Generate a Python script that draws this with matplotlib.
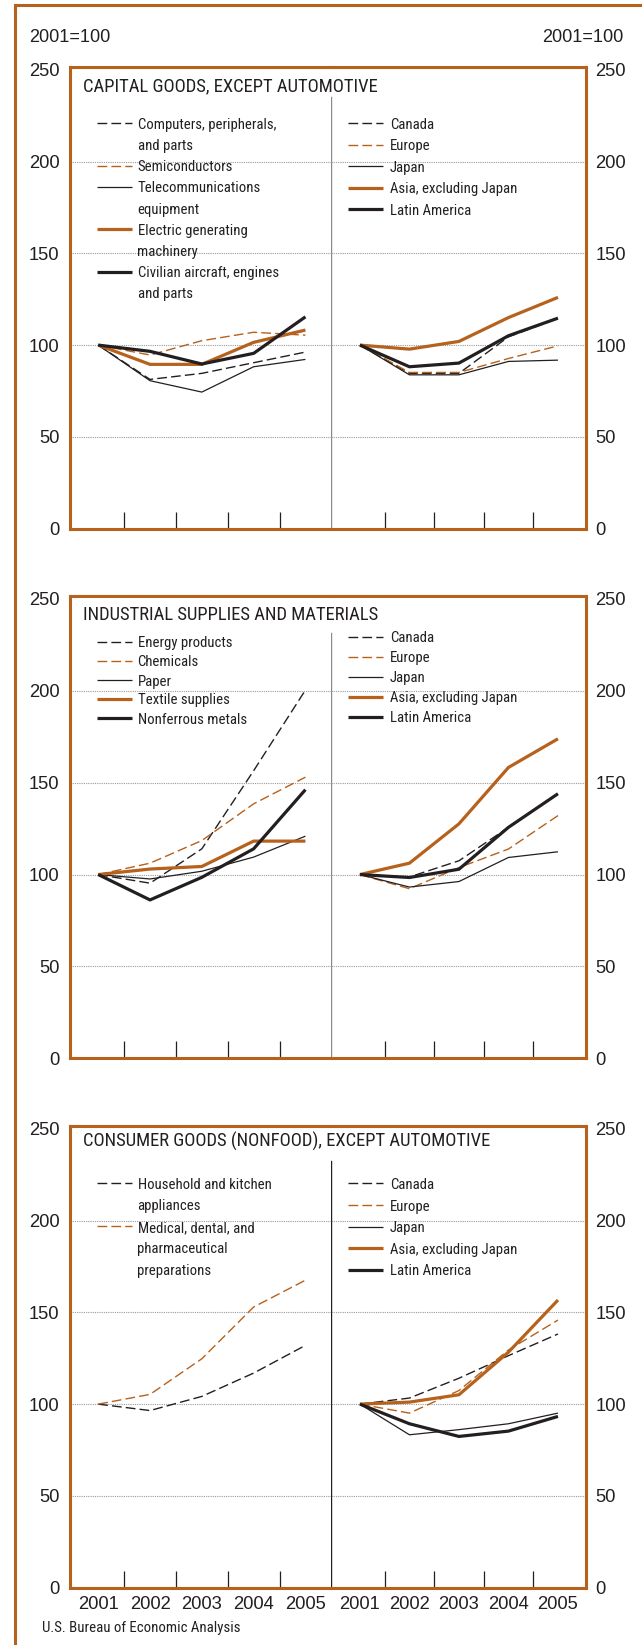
import matplotlib
matplotlib.use("Agg")
from matplotlib import pyplot as plt
from matplotlib import font_manager
from matplotlib.font_manager import FontProperties
from matplotlib.lines import Line2D

# index values, 2001=100
years = ["2001", "2002", "2003", "2004", "2005"]

# capital goods, except automotive
cap_labels = ["Computers, peripherals,\nand parts", "Semiconductors",
              "Telecommunications\nequipment", "Electric generating\nmachinery",
              "Civilian aircraft, engines\nand parts"]
cap_computers = [100, 81.3, 84.6, 90.4, 96.2]
cap_semis = [100, 94.6, 102.4, 107.0, 105.4]
cap_telecom = [100, 80.6, 74.4, 88.2, 92.2]
cap_electric = [100, 89.5, 89.5, 101.5, 108.2]
cap_aircraft = [100, 96.6, 89.7, 95.5, 115.4]
cap_canada = [100, 84.6, 84.6, 104.5, 114.5]
cap_europe = [100, 85.1, 85.1, 92.7, 99.6]
cap_japan = [100, 83.8, 83.8, 91.1, 91.8]
cap_asia = [100, 97.8, 102.0, 115.0, 126.0]
cap_latam = [100, 88.2, 90.2, 105.1, 114.7]

# industrial supplies and materials
ind_labels = ["Energy products", "Chemicals", "Paper", "Textile supplies", "Nonferrous metals"]
ind_energy = [100, 95.3, 114.0, 156.5, 200.4]
ind_chem = [100, 106.2, 118.5, 138.5, 153.0]
ind_paper = [100, 97.6, 101.8, 109.5, 120.9]
ind_textile = [100, 103.0, 104.4, 118.2, 118.2]
ind_nonferrous = [100, 86.2, 98.5, 114.0, 146.2]
ind_canada = [100, 98.7, 107.5, 125.7, 144.0]
ind_europe = [100, 92.3, 103.8, 113.9, 132.1]
ind_japan = [100, 93.2, 96.2, 109.3, 112.4]
ind_asia = [100, 106.2, 127.6, 158.3, 173.9]
ind_latam = [100, 98.4, 102.9, 125.7, 144.0]

# consumer goods (nonfood), except automotive
con_labels = ["Household and kitchen\nappliances", "Medical, dental, and\npharmaceutical\npreparations"]
con_household = [100, 96.5, 104.2, 116.9, 132.0]
con_medical = [100, 105.3, 124.7, 152.9, 167.5]
con_canada = [100, 103.3, 114.1, 126.4, 138.2]
con_europe = [100, 95.1, 107.4, 129.5, 145.8]
con_japan = [100, 83.3, 86.1, 89.3, 95.1]
con_asia = [100, 101.1, 105.1, 128.3, 156.7]
con_latam = [100, 89.3, 82.4, 85.3, 93.3]

region_labels = ["Canada", "Europe", "Japan", "Asia, excluding Japan", "Latin America"]

ORANGE = "#B6611C"
DARK = "#231F20"
GRID = "#9A9A9A"
REG = "Liberation Sans"


# look for a condensed sans face, the original uses a narrow Helvetica
def find_narrow():
    ttf = font_manager.fontManager.ttflist
    for want in ["Liberation Sans Narrow", "Roboto Condensed", "Open Sans Condensed",
                 "Noto Sans Condensed", "DejaVu Sans Condensed"]:
        for f in ttf:
            if f.name == want and f.weight in (400, "normal", "regular") and f.style == "normal":
                return FontProperties(fname=f.fname)
    for fam in ["Noto Sans", "Open Sans", "Roboto", "Liberation Sans"]:
        for f in ttf:
            if (f.name == fam and f.style == "normal" and f.weight in (400, "normal", "regular")
                    and f.stretch in ("condensed", "semi-condensed", 87.5 * 0 + 500 * 0 + 300, 400)
                    and "ondensed" in f.fname):
                return FontProperties(fname=f.fname)
    return FontProperties(family=REG)


NARROW = find_narrow()

W, H = 642, 1645
fig = plt.figure(figsize=(W / 100, H / 100), dpi=100)
renderer = fig.canvas.get_renderer()


def fit_size(text, target_px, base=12.0):
    t = fig.text(0, 0, text, fontproperties=NARROW, size=base)
    w = t.get_window_extent(renderer=renderer).width
    t.remove()
    return base * target_px / w


TITLE_SIZE = fit_size("CAPITAL GOODS, EXCEPT AUTOMOTIVE", 295)
LEG_SIZE = fit_size("Computers, peripherals,", 138)
SRC_SIZE = fit_size("U.S. Bureau of Economic Analysis", 197)


def fx(x):
    return x / W


def fy(y):
    return 1 - y / H


styles = [
    dict(color=DARK, lw=1.0, dashes=(7, 3)),
    dict(color=ORANGE, lw=1.0, dashes=(7, 3)),
    dict(color=DARK, lw=0.9),
    dict(color=ORANGE, lw=2.3),
    dict(color=DARK, lw=2.3),
]

X_LEFT, X_DIV, X_RIGHT = 70.4, 330.7, 585.5
YMAX = 251.5

# (top px, bottom px, title, title y, left series, left labels, legend starts/steps, right series, divider colour, divider top)
panels = [
    (67.1, 528.6, "CAPITAL GOODS, EXCEPT AUTOMOTIVE", 86.7,
     [cap_computers, cap_semis, cap_telecom, cap_electric, cap_aircraft], cap_labels,
     (123.3, 21.2), (123.3, 21.5),
     [cap_canada, cap_europe, cap_japan, cap_asia, cap_latam], "#8A8A8A", 235),
    (596.2, 1058.3, "INDUSTRIAL SUPPLIES AND MATERIALS", 615.1,
     [ind_energy, ind_chem, ind_paper, ind_textile, ind_nonferrous], ind_labels,
     (642.0, 19.0), (636.5, 20.0),
     [ind_canada, ind_europe, ind_japan, ind_asia, ind_latam], "#8A8A8A", 231.6),
    (1126.0, 1587.7, "CONSUMER GOODS (NONFOOD), EXCEPT AUTOMOTIVE", 1141.7,
     [con_household, con_medical], con_labels,
     (1183.4, 21.5), (1183.4, 21.6),
     [con_canada, con_europe, con_japan, con_asia, con_latam], DARK, 232.7),
]

xs = list(range(len(years)))

for i, (top, bot, title, ty, lseries, llabels, lleg, rleg, rseries, divc, divtop) in enumerate(panels):
    h = (bot - top) / H
    axL = fig.add_axes([fx(X_LEFT), fy(bot), (X_DIV - X_LEFT) / W, h])
    axR = fig.add_axes([fx(X_DIV), fy(bot), (X_RIGHT - X_DIV) / W, h])
    axL.set_xlim(-0.537, 4.488)
    axR.set_xlim(-0.59, 4.556)

    for ax, series in ((axL, lseries), (axR, rseries)):
        ax.set_ylim(0, YMAX)
        for g in [50, 100, 150, 200]:
            ax.axhline(g, color=GRID, lw=0.8, linestyle=(0, (1, 1)), zorder=1)
        for j, s in enumerate(series):
            st = styles[j]
            ln, = ax.plot(xs, s, color=st["color"], lw=st["lw"], zorder=3 + j,
                          solid_joinstyle="miter", solid_capstyle="butt")
            if "dashes" in st:
                ln.set_dashes(st["dashes"])
        for sp in ax.spines.values():
            sp.set_color(ORANGE)
            sp.set_linewidth(2.2)
        ax.set_xticks(xs)
        ax.set_xticks([0.5, 1.5, 2.5, 3.5], minor=True)
        ax.tick_params(axis="x", which="major", length=0, pad=6,
                       labelsize=13.2, labelcolor=DARK)
        ax.tick_params(axis="x", which="minor", direction="in", length=12,
                       width=0.9, color=DARK)
        ax.set_yticks([0, 50, 100, 150, 200, 250])
        if i == 2:
            ax.set_xticklabels(years, family=REG)
        else:
            ax.set_xticklabels([])

    axL.spines["right"].set_visible(False)
    axR.spines["left"].set_visible(False)
    axL.tick_params(axis="y", length=0, pad=8, labelsize=13.2, labelcolor=DARK)
    axR.yaxis.tick_right()
    axR.tick_params(axis="y", length=0, pad=7, labelsize=13.2, labelcolor=DARK)
    for lab in axL.get_yticklabels() + axR.get_yticklabels():
        lab.set_family(REG)
    axR.axvline(axR.get_xlim()[0], ymax=divtop / YMAX, color=divc, lw=1.0, zorder=2)

    fig.text(fx(83), fy(ty), title, fontproperties=NARROW, size=TITLE_SIZE,
             color=DARK, ha="left", va="center")

    # legends
    for (y0, step), labels, hx0, hx1, tx in ((lleg, llabels, 96.5, 131.5, 137.5),
                                            (rleg, region_labels, 348.0, 382.5, 390.0)):
        y = y0
        for j, lab in enumerate(labels):
            st = styles[j]
            hl = Line2D([fx(hx0), fx(hx1)], [fy(y), fy(y)], transform=fig.transFigure,
                        color=st["color"], lw=st["lw"], solid_capstyle="butt")
            if "dashes" in st:
                hl.set_dashes(st["dashes"])
            fig.add_artist(hl)
            for line in lab.split("\n"):
                fig.text(fx(tx), fy(y), line, fontproperties=NARROW, size=LEG_SIZE,
                         color=DARK, ha="left", va="center_baseline", zorder=5)
                y += step

# unit labels
fig.text(fx(29.5), fy(37.5), "2001=100", family=REG, size=13.1, color=DARK,
         ha="left", va="center")
fig.text(fx(623), fy(37.5), "2001=100", family=REG, size=13.1, color=DARK,
         ha="right", va="center")

fig.text(fx(42), fy(1628), "U.S. Bureau of Economic Analysis", fontproperties=NARROW,
         size=SRC_SIZE, color=DARK, ha="left", va="center")

# outer frame, open on the right and bottom
fig.add_artist(Line2D([fx(15), 1], [fy(5.4), fy(5.4)], transform=fig.transFigure,
                      color=ORANGE, lw=2.2, solid_capstyle="butt"))
fig.add_artist(Line2D([fx(15), fx(15)], [fy(5.4), 0], transform=fig.transFigure,
                      color=ORANGE, lw=2.2, solid_capstyle="projecting"))

plt.savefig("out.png", dpi=100)
